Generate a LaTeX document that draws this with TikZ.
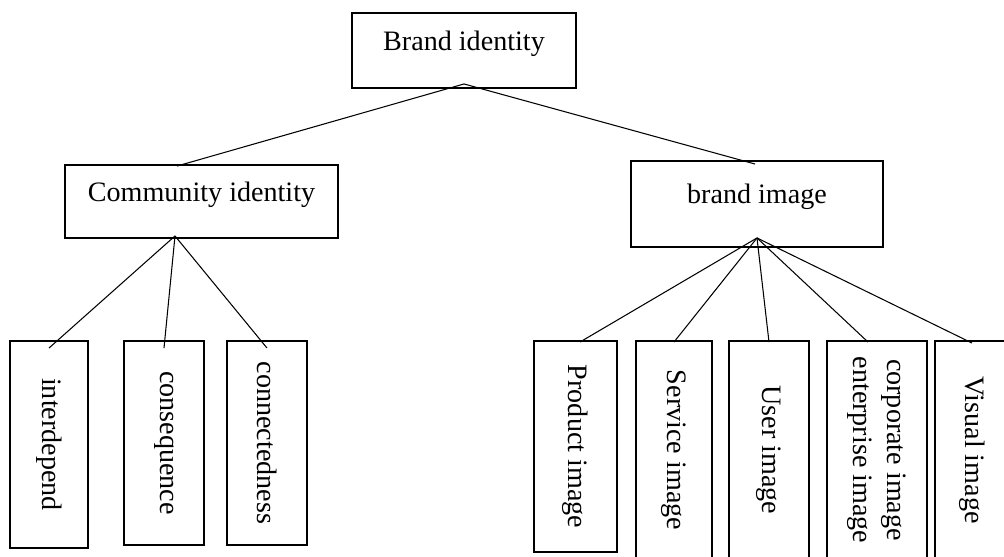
\documentclass[tikz,border=0pt]{standalone}
\usepackage{fontspec}
\setmainfont{Liberation Serif}
\usepackage{graphicx}
\usepackage{tikz}
\usetikzlibrary{calc}

\begin{document}
\begin{tikzpicture}[
        box/.style={draw, line width=1.1pt, rectangle, inner sep=0pt,
            font=\fontsize{16}{19}\selectfont},
        headbox/.style={box, text height=0.3cm, text depth=0.3cm},
        link/.style={line width=0.6pt}
    ]
            \useasboundingbox (0, 0) rectangle (20.08, 11.14);
            \clip (0, 0) rectangle (20.08, 11.14);

            % top and second level
            \node[headbox, minimum width=4.48cm, minimum height=1.5cm] (brand) at (9.28, 10.13) {Brand identity};
            \node[headbox, minimum width=5.46cm, minimum height=1.46cm] (community) at (4.03, 7.11) {Community identity};
            \node[headbox, minimum width=5.04cm, minimum height=1.72cm] (image) at (15.14, 7.06) {brand image};

            % community side
            \node[box, minimum width=1.56cm, minimum height=4.14cm] (interdepend) at (0.98, 2.25) {\rotatebox{-90}{interdepend}};
            \node[box, minimum width=1.6cm, minimum height=4.08cm] (consequence) at (3.28, 2.28) {\rotatebox{-90}{consequence}};
            \node[box, minimum width=1.6cm, minimum height=4.08cm] (connected) at (5.34, 2.28) {\rotatebox{-90}{connectedness}};

            % image side
            \node[box, minimum width=1.66cm, minimum height=4.22cm] (product) at (11.51, 2.21) {\rotatebox{-90}{Product image}};
            \node[box, minimum width=1.52cm, minimum height=4.36cm] (service) at (13.48, 2.14) {\rotatebox{-90}{Service image}};
            \node[box, minimum width=1.6cm, minimum height=4.36cm] (user) at (15.38, 2.14) {\rotatebox{-90}{User image}};
            \node[box, minimum width=2.0cm, minimum height=4.36cm] (corporate) at (17.54, 2.14) {\rotatebox{-90}{\begin{tabular}{@{}c@{}}corporate image\\enterprise image\end{tabular}}};
            \node[box, minimum width=1.48cm, minimum height=4.36cm] (visual) at (19.44, 2.14) {\rotatebox{-90}{Visual image}};

            \coordinate (brand-hub) at ([yshift=0.1cm]brand.south);
            \coordinate (community-hub) at ([xshift=-0.53cm, yshift=0.06cm]community.south);
            \coordinate (image-hub) at ([yshift=0.2cm]image.south);

            \draw[link] (brand-hub) -- ([xshift=-0.49cm, yshift=-0.04cm]community.north);
            \draw[link] (brand-hub) -- ([xshift=-0.04cm, yshift=-0.08cm]image.north);

            \foreach \child in {interdepend, consequence, connected}
                \draw[link] (community-hub) -- ([yshift=-0.16cm]\child.north);

            \draw[link] (image-hub) -- ([xshift=0.09cm, yshift=-0.04cm]product.north);
            \draw[link] (image-hub) -- ([yshift=-0.04cm]service.north);
            \draw[link] (image-hub) -- ([yshift=-0.04cm]user.north);
            \draw[link] (image-hub) -- ([xshift=-0.18cm, yshift=-0.04cm]corporate.north);
            \draw[link] (image-hub) -- ([yshift=-0.06cm]visual.north);
        \end{tikzpicture}
\end{document}
